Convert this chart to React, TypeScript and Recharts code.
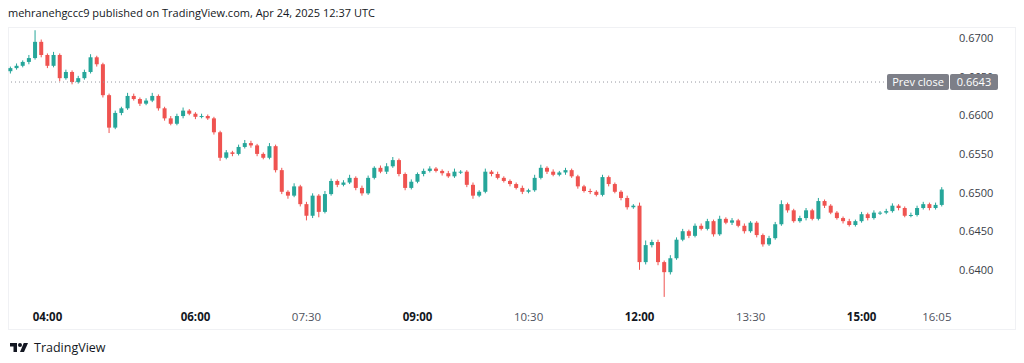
import { ComposedChart, Bar, XAxis, YAxis, ReferenceLine } from "recharts";

// 5-minute candles, Apr 24 2025 (times in minutes from midnight, UTC)
const startMinute = 210; // 03:30
const stepMinutes = 5;
const firstOpen = 0.6657;
const prevClose = 0.6643;

// closes
const closes = [
  0.6661, 0.6664, 0.6669, 0.6674, 0.6695, 0.6678, 0.6664, 0.6678, 0.6648, 0.6656,
  0.6643, 0.6648, 0.6656, 0.6675, 0.6666, 0.6626, 0.6584, 0.6603, 0.6609, 0.6625,
  0.6621, 0.6615, 0.6619, 0.6625, 0.6609, 0.6596, 0.6589, 0.6599, 0.6606, 0.6602,
  0.6598, 0.6599, 0.6596, 0.6578, 0.6545, 0.6552, 0.655, 0.6559, 0.6564, 0.6561,
  0.655, 0.6545, 0.656, 0.6529, 0.6501, 0.6496, 0.6508, 0.6485, 0.647, 0.6496,
  0.6475, 0.6498, 0.6515, 0.651, 0.6513, 0.6519, 0.6506, 0.6499, 0.6519, 0.6532,
  0.6527, 0.6534, 0.6542, 0.6524, 0.6506, 0.6514, 0.6524, 0.6528, 0.6531, 0.6528,
  0.6525, 0.6521, 0.6527, 0.6527, 0.651, 0.6496, 0.6501, 0.6527, 0.6524, 0.6519,
  0.6515, 0.6511, 0.6506, 0.6501, 0.6503, 0.6519, 0.6532, 0.6527, 0.6523, 0.6526,
  0.6529, 0.6521, 0.6508, 0.6502, 0.6501, 0.6497, 0.652, 0.6511, 0.6501, 0.6493,
  0.6481, 0.6483, 0.641, 0.6432, 0.6436, 0.641, 0.6397, 0.6415, 0.6439, 0.645,
  0.6444, 0.6457, 0.6453, 0.6463, 0.6446, 0.6466, 0.6461, 0.6464, 0.6457, 0.645,
  0.6461, 0.6445, 0.6433, 0.6441, 0.6459, 0.6485, 0.6477, 0.6463, 0.6467, 0.6477,
  0.6466, 0.6489, 0.6483, 0.6474, 0.6467, 0.6463, 0.6458, 0.6463, 0.6472, 0.6467,
  0.6474, 0.6474, 0.6476, 0.6483, 0.648, 0.647, 0.6471, 0.648, 0.6485, 0.648,
  0.6484, 0.6504,
];

// wick lengths above / below the body, in pips (0.0001)
const upWicks = [
  2, 3, 2, 4, 15, 3, 2, 4, 2, 3,
  2, 3, 3, 4, 2, 2, 2, 3, 2, 4,
  3, 2, 3, 4, 2, 2, 3, 3, 4, 2,
  2, 3, 2, 2, 2, 3, 2, 3, 4, 3,
  2, 2, 4, 2, 3, 2, 4, 2, 3, 3,
  2, 4, 3, 2, 3, 4, 2, 3, 3, 2,
  3, 4, 4, 2, 2, 3, 2, 3, 3, 2,
  2, 3, 4, 2, 2, 3, 2, 4, 2, 3,
  2, 2, 2, 3, 2, 4, 4, 2, 3, 2,
  3, 2, 2, 2, 3, 2, 3, 2, 2, 2,
  3, 2, 4, 6, 3, 3, 2, 4, 3, 3,
  2, 3, 3, 3, 2, 4, 2, 3, 2, 3,
  2, 2, 2, 3, 3, 5, 2, 2, 3, 3,
  2, 4, 2, 2, 2, 2, 3, 2, 3, 2,
  3, 2, 3, 3, 2, 2, 3, 3, 3, 2,
  3, 3,
];
const downWicks = [
  3, 2, 2, 3, 2, 3, 3, 2, 4, 2,
  3, 2, 2, 2, 3, 3, 7, 2, 3, 2,
  2, 3, 2, 2, 3, 3, 2, 2, 3, 2,
  3, 2, 2, 3, 4, 2, 3, 2, 2, 3,
  3, 2, 2, 3, 3, 4, 2, 3, 6, 3,
  7, 2, 2, 3, 2, 2, 3, 3, 2, 2,
  2, 3, 2, 3, 3, 2, 2, 3, 2, 2,
  3, 2, 2, 3, 3, 4, 2, 2, 3, 2,
  2, 3, 2, 3, 2, 2, 2, 3, 2, 2,
  3, 2, 3, 2, 3, 2, 2, 3, 2, 3,
  3, 2, 10, 3, 3, 4, 32, 3, 2, 2,
  3, 2, 2, 2, 3, 2, 2, 3, 2, 3,
  2, 3, 3, 2, 2, 2, 3, 2, 2, 3,
  2, 2, 3, 2, 2, 3, 2, 2, 2, 3,
  2, 3, 2, 2, 3, 2, 2, 2, 2, 3,
  2, 2,
];

const priceTicks = [0.64, 0.645, 0.65, 0.655, 0.66, 0.665, 0.67];
const timeTicks = [240, 360, 450, 540, 630, 720, 810, 900, 965];
const boldTimes = [240, 360, 540, 720, 900];

const UP = "#26a69a";
const DOWN = "#ef5350";
const PIP = 0.0001;

const PRICE_MIN = 0.63571;
const PRICE_MAX = 0.67142;
const PLOT_TOP = 27;
const PLOT_HEIGHT = 276;

const candles = closes.map((close, i) => {
  const open = i === 0 ? firstOpen : closes[i - 1];
  const high = Math.max(open, close) + upWicks[i] * PIP;
  const low = Math.min(open, close) - downWicks[i] * PIP;
  return { t: startMinute + i * stepMinutes, open, close, high, low, range: [low, high] };
});

const fmtTime = (m: number) =>
  `${String(Math.floor(m / 60)).padStart(2, "0")}:${String(m % 60).padStart(2, "0")}`;

const Candle = (props: any) => {
  const { x, y, width, height, payload } = props;
  if (!payload) return null;
  const { open, close, high, low } = payload;
  const color = close >= open ? UP : DOWN;
  const ratio = height / (high - low);
  const yOf = (v: number) => y + (high - v) * ratio;
  const top = yOf(Math.max(open, close));
  const bottom = yOf(Math.min(open, close));
  const cx = x + width / 2;
  return (
    <g>
      <line x1={cx} x2={cx} y1={y} y2={y + height} stroke={color} strokeWidth={1} />
      <rect x={x} y={top} width={width} height={Math.max(1, bottom - top)} fill={color} />
    </g>
  );
};

const TimeTick = (props: any) => {
  const { x, payload } = props;
  const v = payload.value;
  const bold = boldTimes.includes(v);
  return (
    <text
      x={v === 965 ? x - 5 : x}
      y={321}
      textAnchor="middle"
      fontSize={11.5}
      fontFamily="'Open Sans', sans-serif"
      fontWeight={bold ? 700 : 400}
      fill={bold ? "#131722" : "#50535e"}
    >
      {fmtTime(v)}
    </text>
  );
};

const PriceTick = (props: any) => {
  const { y, payload } = props;
  return (
    <text x={959} y={y + 4} fontSize={11} fontFamily="'Open Sans', sans-serif" fill="#3a3d47">
      {payload.value.toFixed(4)}
    </text>
  );
};

// y pixel of the prev close line, for the html badge drawn on top of the axis
const prevCloseY = PLOT_TOP + ((PRICE_MAX - prevClose) / (PRICE_MAX - PRICE_MIN)) * PLOT_HEIGHT;

const badge = {
  position: "absolute" as const,
  height: 16,
  lineHeight: "16px",
  background: "#7d7f88",
  color: "#ffffff",
  fontSize: 11,
  textAlign: "center" as const,
  borderRadius: 2,
};

export default function App() {
  return (
    <div
      style={{
        position: "absolute",
        left: 0,
        top: 0,
        width: 1024,
        height: 363,
        background: "#ffffff",
        fontFamily: "'Open Sans', sans-serif",
        overflow: "hidden",
      }}
    >
      <div style={{ position: "absolute", left: 8, top: 5, fontSize: 11, color: "#131722", whiteSpace: "nowrap" }}>
        mehranehgccc9 published on TradingView.com, Apr 24, 2025 12:37 UTC
      </div>
      <div
        style={{
          position: "absolute",
          left: 8,
          top: 27,
          width: 1006,
          height: 301,
          border: "1px solid #f0f1f4",
        }}
      />
      <div style={{ position: "absolute", left: 0, top: 0 }}>
        <ComposedChart
          width={1024}
          height={363}
          data={candles}
          margin={{ top: 27, right: 9, bottom: 34, left: 8 }}
        >
          <XAxis
            dataKey="t"
            type="number"
            domain={[208, 970]}
            ticks={timeTicks}
            tick={<TimeTick />}
            axisLine={false}
            tickLine={false}
            height={26}
            allowDataOverflow
          />
          <YAxis
            orientation="right"
            type="number"
            domain={[PRICE_MIN, PRICE_MAX]}
            ticks={priceTicks}
            tick={<PriceTick />}
            axisLine={false}
            tickLine={false}
            width={67}
            allowDataOverflow
          />
          <Bar dataKey="range" barSize={4} shape={<Candle />} isAnimationActive={false} />
          <ReferenceLine y={prevClose} stroke="#9598a1" strokeDasharray="1 3" />
        </ComposedChart>
      </div>
      <div style={{ ...badge, left: 887, top: prevCloseY - 8, width: 62 }}>Prev close</div>
      <div style={{ ...badge, left: 950, top: prevCloseY - 8, width: 48 }}>{prevClose.toFixed(4)}</div>
      <div style={{ position: "absolute", left: 8, top: 339, display: "flex", alignItems: "center", gap: 4 }}>
        <svg width={22} height={14} viewBox="0 0 36 28">
          <path d="M14 22H7V11H0V4h14v18z" fill="#131722" />
          <circle cx="20" cy="8" r="4" fill="#131722" />
          <path d="M28 22h-8l7.5-18H36z" fill="#131722" />
        </svg>
        <span style={{ fontSize: 12.5, color: "#131722" }}>TradingView</span>
      </div>
    </div>
  );
}
